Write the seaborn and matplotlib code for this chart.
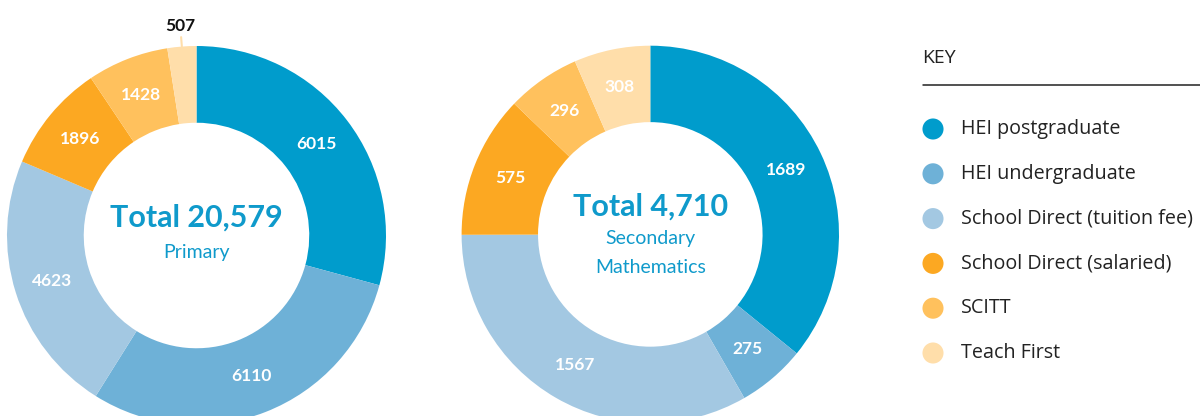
import matplotlib
matplotlib.use("Agg")
import matplotlib.pyplot as plt
import seaborn as sns
import numpy as np

categories = ["HEI postgraduate", "HEI undergraduate", "School Direct (tuition fee)",
              "School Direct (salaried)", "SCITT", "Teach First"]
primary = [6015, 6110, 4623, 1896, 1428, 507]
maths = [1689, 275, 1567, 575, 296, 308]
colours = ["#009ccc", "#6eb1d7", "#a3c8e2", "#fca822", "#ffc15d", "#ffdeaa"]
blue_text = "#0f9acb"

sns.set_theme(style="white")
plt.rcParams["font.family"] = ["Lato", "DejaVu Sans"]
key_font = ["Open Sans", "DejaVu Sans"]

W, H = 1200, 416
fig = plt.figure(figsize=(12, 4.16), dpi=100)
HOLE = 0.595


def donut(cx, cy, r, values, lines, outside=()):
    # axes placed in pixel units so 1 data unit = outer radius
    ax = fig.add_axes([(cx - r) / W, (H - cy - r) / H, 2 * r / W, 2 * r / H])
    ax.pie(values, colors=colours, startangle=90, counterclock=False, radius=1,
           wedgeprops=dict(width=1 - HOLE, edgecolor="none", linewidth=0))
    ax.set_xlim(-1, 1)
    ax.set_ylim(-1, 1)
    ax.axis("off")

    total = sum(values)
    ends = np.cumsum(values)
    starts = ends - np.array(values)
    mid = np.radians(90 - (starts + ends) / 2 / total * 360)
    rmid = (1 + HOLE) / 2
    for i, (v, a) in enumerate(zip(values, mid)):
        if i in outside:
            ax.plot([np.cos(a), 1.05 * np.cos(a)], [np.sin(a), 1.05 * np.sin(a)],
                    color=colours[i], lw=1.5, clip_on=False)
            ax.text(1.11 * np.cos(a), 1.11 * np.sin(a), str(v), ha="center", va="center",
                    fontsize=12.5, fontweight="bold", color="#111111")
        else:
            ax.text(rmid * np.cos(a), rmid * np.sin(a), str(v), ha="center", va="center",
                    fontsize=12.5, fontweight="bold", color="white")

    for txt, y, size, weight in lines:
        ax.text(0, y, txt, ha="center", va="center", fontsize=size,
                fontweight=weight, color=blue_text)
    return ax


donut(196.5, 235.5, 189.5, primary,
      [(f"Total {sum(primary):,}", 0.092, 22, "bold"),
       ("Primary", -0.092, 14, "normal")],
      outside=(5,))
donut(650.3, 234.4, 188.7, maths,
      [(f"Total {sum(maths):,}", 0.15, 22, "bold"),
       ("Secondary", -0.024, 14, "normal"),
       ("Mathematics", -0.178, 14, "normal")])

# key
kax = fig.add_axes([0, 0, 1, 1])
kax.set_xlim(0, W)
kax.set_ylim(H, 0)
kax.axis("off")
kax.text(922, 58, "KEY", ha="left", va="center", fontsize=14, color="#222222",
         family=key_font)
kax.plot([923, 1200], [85, 85], color="#222222", lw=1.1)
for i, (name, c) in enumerate(zip(categories, colours)):
    y = 129 + 44.8 * i
    kax.scatter([933], [y], s=230, color=c, edgecolor="none")
    kax.text(961, y, name, ha="left", va="center", fontsize=14.2, color="#222222",
             family=key_font)

fig.savefig("out.png", dpi=100)
